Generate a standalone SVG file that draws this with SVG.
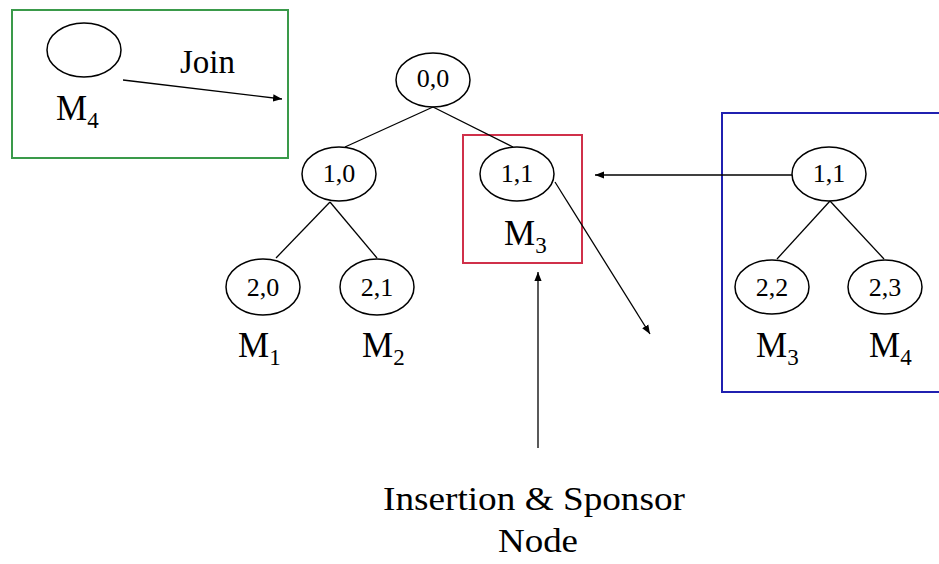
<svg xmlns="http://www.w3.org/2000/svg" width="939" height="564" viewBox="0 0 939 564">
<style>
.n{fill:none;stroke:#000;stroke-width:1.5}
.l{stroke:#000;stroke-width:1.3;fill:none}
.t{font-family:"Liberation Serif","Times New Roman",serif;fill:#000}
.d{font-size:26px;text-anchor:middle}
.m{font-size:35px}
.s{font-size:23px}
</style>
<defs>
<marker id="ah" viewBox="0 0 10 10" refX="10" refY="5" markerWidth="9" markerHeight="9" markerUnits="userSpaceOnUse" orient="auto">
<path d="M0,1 L10,5 L0,9 Z" fill="#000"/>
</marker>
</defs>
<rect width="939" height="564" fill="#fff"/>
<g id="joinbox">
<rect x="12" y="10" width="276" height="148" fill="none" stroke="#3a9a4a" stroke-width="2"/>
<ellipse class="n" cx="84" cy="50" rx="37" ry="27"/>
<text class="t m" x="56" y="120">M<tspan class="s" dy="8">4</tspan></text>
<text class="t" x="180" y="73" font-size="33">Join</text>
</g>
<g id="sponsorbox">
<rect x="463" y="135" width="119" height="128" fill="none" stroke="#d0304a" stroke-width="2"/>
</g>
<g id="subtreebox">
<rect x="722" y="113" width="230" height="279" fill="none" stroke="#2020b0" stroke-width="2"/>
</g>
<g id="connectors">
<line class="l" x1="433" y1="107" x2="345" y2="147"/>
<line class="l" x1="433" y1="107" x2="513" y2="147"/>
<line class="l" x1="330" y1="202" x2="276" y2="258"/>
<line class="l" x1="330" y1="202" x2="377" y2="258"/>
<line class="l" x1="830" y1="201" x2="777" y2="259"/>
<line class="l" x1="830" y1="201" x2="884" y2="259"/>
<line class="l" x1="123" y1="80" x2="282" y2="99" marker-end="url(#ah)"/>
<line class="l" x1="792" y1="175" x2="595" y2="175" marker-end="url(#ah)"/>
<line class="l" x1="555" y1="182" x2="650" y2="334" marker-end="url(#ah)"/>
<line class="l" x1="538" y1="448" x2="538" y2="272" marker-end="url(#ah)"/>
</g>
<g id="n00"><ellipse class="n" cx="433" cy="80" rx="37" ry="27"/><text class="t d" x="433" y="87">0,0</text></g>
<g id="n10"><ellipse class="n" cx="339" cy="174" rx="37" ry="27"/><text class="t d" x="339" y="182">1,0</text></g>
<g id="n11"><ellipse class="n" cx="517" cy="174" rx="37" ry="27"/><text class="t d" x="517" y="182">1,1</text>
<text class="t m" x="504" y="245">M<tspan class="s" dy="8">3</tspan></text></g>
<g id="n20"><ellipse class="n" cx="263" cy="287" rx="37" ry="28"/><text class="t d" x="263" y="296">2,0</text>
<text class="t m" x="238" y="357">M<tspan class="s" dy="8">1</tspan></text></g>
<g id="n21"><ellipse class="n" cx="377" cy="287" rx="37" ry="28"/><text class="t d" x="377" y="296">2,1</text>
<text class="t m" x="362" y="357">M<tspan class="s" dy="8">2</tspan></text></g>
<g id="b11"><ellipse class="n" cx="829" cy="174" rx="37" ry="27"/><text class="t d" x="829" y="182">1,1</text></g>
<g id="b22"><ellipse class="n" cx="772" cy="287" rx="37" ry="27"/><text class="t d" x="772" y="296">2,2</text>
<text class="t m" x="756" y="357">M<tspan class="s" dy="8">3</tspan></text></g>
<g id="b23"><ellipse class="n" cx="885" cy="287" rx="37" ry="27"/><text class="t d" x="885" y="296">2,3</text>
<text class="t m" x="869" y="357">M<tspan class="s" dy="8">4</tspan></text></g>
<g id="label">
<text class="t" x="383" y="510" font-size="33" textLength="302" lengthAdjust="spacingAndGlyphs">Insertion &amp; Sponsor</text>
<text class="t" x="498" y="552" font-size="33" textLength="80" lengthAdjust="spacingAndGlyphs">Node</text>
</g>
</svg>
